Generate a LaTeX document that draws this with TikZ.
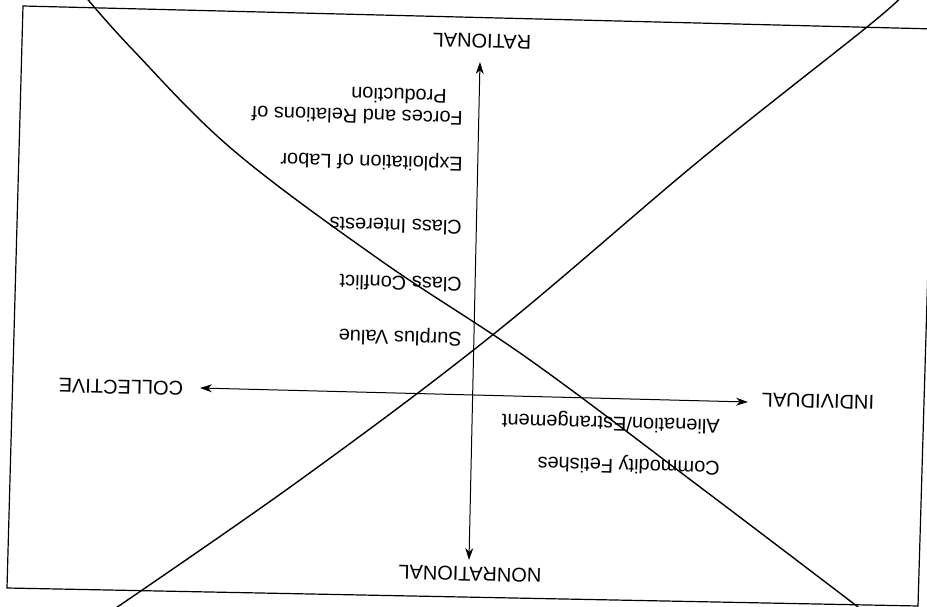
\documentclass[tikz,border=0pt]{standalone}
\usepackage{fontspec}
\setmainfont{Liberation Sans}
\usetikzlibrary{arrows.meta}
\begin{document}
\begin{tikzpicture}[
      x=1pt, y=-1pt,
      axislabel/.style={font=\fontsize{20}{24}\selectfont, inner sep=0pt, rotate=178.5},
      itemlabel/.style={font=\fontsize{20}{24}\selectfont, inner sep=0pt, rotate=178.5, anchor=west},
      axisline/.style={line width=1pt, {Stealth[length=12pt,width=8pt]}-{Stealth[length=12pt,width=8pt]}},
      sweep/.style={line width=1.4pt, line join=round}
    ]
    \clip (0,0) rectangle (927,607);
    \fill[white] (0,0) rectangle (927,607);

    %-----------------------------
    % Frame
    %-----------------------------
    \draw[line width=1.2pt] (23,6) -- (935,29) -- (918,606) -- (7,588) -- cycle;

    %-----------------------------
    % Axes and their poles
    %-----------------------------
    \coordinate (rat-tip) at (480,62);
    \coordinate (nonrat-tip) at (469,560);
    \coordinate (coll-tip) at (200,388);
    \coordinate (indiv-tip) at (748,402);
    \draw[axisline] (nonrat-tip) -- (rat-tip);
    \draw[axisline] (coll-tip) -- (indiv-tip);

    \node[axislabel] (rational) at (482,41) {RATIONAL};
    \node[axislabel] (nonrational) at (470,574) {NONRATIONAL};
    \node[axislabel] (collective) at (121,387) {COLLECTIVE};
    \node[axislabel] (individual) at (818,401) {INDIVIDUAL};

    %-----------------------------
    % Crossing curves
    %-----------------------------
    \draw[sweep] plot[smooth, tension=0.6] coordinates
      {(84,-5) (133,50) (233,150) (380,260) (530,360) (700,487) (862,610)};
    \draw[sweep] plot[smooth, tension=0.6] coordinates
      {(110,612) (300,480) (495,333) (700,160) (867,27) (902,-4)};

    %-----------------------------
    % Concepts along the axes
    %-----------------------------
    \node[itemlabel] (production) at (447,97) {Production};
    \foreach \nm/\xx/\yy/\txt in {forces/463/119/{Forces and Relations of},
        exploitation/463/163/{Exploitation of Labor},
        interests/462/228/{Class Interests},
        conflict/462/285/{Class Conflict},
        surplus/462/338/{Surplus Value},
        alienation/720/425/{Alienation/Estrangement},
        commodity/720/467/{Commodity Fetishes}} {
      \node[itemlabel] (\nm) at (\xx,\yy) {\txt};
    }

  \end{tikzpicture}
\end{document}
